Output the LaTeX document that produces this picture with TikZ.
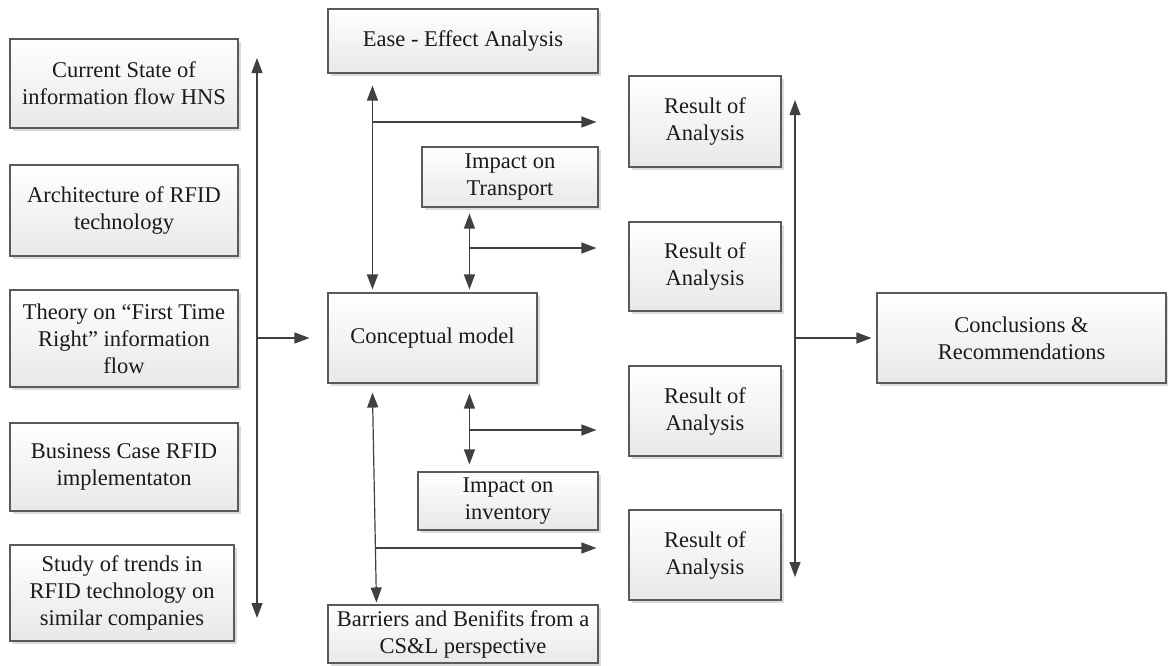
\documentclass[tikz,border=0pt]{standalone}
\usepackage{fontspec}
\setmainfont{Liberation Serif}
\usetikzlibrary{arrows.meta,shadows,calc}

\definecolor{edgegray}{HTML}{5A5A5A}
\definecolor{wiregray}{HTML}{404040}
\definecolor{inkgray}{HTML}{1A1A1A}

\tikzset{
  box/.style={draw=edgegray, line width=1.1pt,
    top color=white, bottom color=black!9,
    drop shadow={shadow xshift=3pt, shadow yshift=-3pt, fill=black!14, opacity=1},
    align=center, inner sep=2pt, text=inkgray,
    font=\fontsize{22.5}{27}\selectfont},
  wire/.style={draw=wiregray, line width=1.2pt},
  onetip/.style={wire, -{Triangle[length=15pt,width=11pt]}},
  twotip/.style={wire, {Triangle[length=15pt,width=11pt]}-{Triangle[length=15pt,width=11pt]}}
}

\begin{document}
\begin{tikzpicture}[x=1pt,y=-1pt]
\useasboundingbox (0,0) rectangle (1168,665);

% input column
\node[box, minimum width=228pt, minimum height=89pt] (l1) at (124,83.5) {Current State of\\information flow HNS};
\node[box, minimum width=228pt, minimum height=91pt] (l2) at (124,210.5) {Architecture of RFID\\technology};
\node[box, minimum width=228pt, minimum height=97pt] (l3) at (124,338.5) {Theory on “First Time\\Right” information\\flow};
\node[box, minimum width=228pt, minimum height=88pt] (l4) at (124,467) {Business Case RFID\\implementaton};
\node[box, minimum width=224pt, minimum height=96pt] (l5) at (122,593) {Study of trends in\\RFID technology on\\similar companies};

% central column
\node[box, minimum width=270pt, minimum height=64pt] (ease) at (463,41) {Ease - Effect Analysis};
\node[box, minimum width=176pt, minimum height=60pt] (transport) at (510,177) {Impact on\\Transport};
\node[box, minimum width=209pt, minimum height=90pt] (concept) at (432.5,338) {Conceptual model};
\node[box, minimum width=180pt, minimum height=58pt] (inventory) at (508,501) {Impact on\\inventory};
\node[box, minimum width=270pt, minimum height=58pt] (barriers) at (463,634) {Barriers and Benifits from a\\CS\&L perspective};

% results
\node[box, minimum width=152pt, minimum height=91pt] (r1) at (705,121.5) {Result of\\Analysis};
\node[box, minimum width=152pt, minimum height=89pt] (r2) at (705,266.5) {Result of\\Analysis};
\node[box, minimum width=152pt, minimum height=90pt] (r3) at (705,411) {Result of\\Analysis};
\node[box, minimum width=152pt, minimum height=90pt] (r4) at (705,555) {Result of\\Analysis};

% conclusion
\node[box, minimum width=289pt, minimum height=90pt] (concl) at (1021.5,338) {Conclusions \&\\Recommendations};

% collector bar of the inputs
\coordinate (ltop) at (257,58);
\coordinate (lbot) at (257,618);
\draw[twotip] (ltop) -- (lbot);
\draw[onetip] (ltop |- concept.west) -- ($(concept.west)+(-18,0)$);

% links around the conceptual model
\draw[twotip] ([xshift=45pt,yshift=-12pt]ease.south west) -- ([xshift=45pt,yshift=3pt]concept.north west);
\draw[twotip] ([xshift=48pt,yshift=-6pt]transport.south west) -- ([xshift=142pt,yshift=3pt]concept.north west);
\draw[twotip] ([xshift=142pt,yshift=-10pt]concept.south west) -- ([xshift=52pt,yshift=7pt]inventory.north west);
\draw[twotip] ([xshift=45pt,yshift=-9pt]concept.south west) -- ([xshift=49pt,yshift=2pt]barriers.north west);

% branches towards the results
\coordinate (b1) at (373,122);
\coordinate (b2) at (470,248);
\coordinate (b3) at (470,430);
\coordinate (b4) at (375,548);
\draw[onetip] (b1) -- ($(b1 -| r1.west)+(-32,0)$);
\draw[onetip] (b2) -- ($(b2 -| r2.west)+(-32,0)$);
\draw[onetip] (b3) -- ($(b3 -| r3.west)+(-32,0)$);
\draw[onetip] (b4) -- ($(b4 -| r4.west)+(-32,0)$);

% collector bar of the results
\coordinate (rtop) at (795,100);
\coordinate (rbot) at (795,577);
\draw[twotip] (rtop) -- (rbot);
\draw[onetip] (rtop |- concl.west) -- ($(concl.west)+(-5,0)$);
\end{tikzpicture}
\end{document}
